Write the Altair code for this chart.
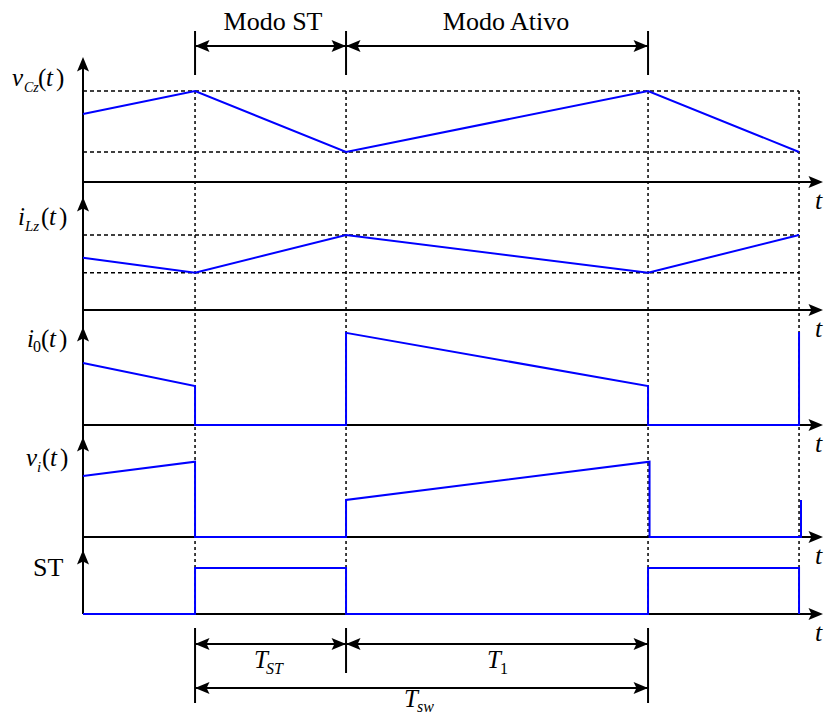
import altair as alt
import pandas as pd

FONT = "Liberation Serif"
BLUE = "#0000ff"
BLACK = "#000000"

# ---------------- data ----------------
# switching instants, in units of T_ST, measured from the vertical axis
t_events = [0.742, 1.742, 3.742, 4.742]

# waveforms: time points and value as fraction of each panel's axis height
vCz_t = [0, 0.742, 1.742, 3.742, 4.742]
vCz_v = [0.544, 0.728, 0.240, 0.728, 0.240]
iLz_t = [0, 0.742, 1.742, 3.742, 4.742]
iLz_v = [0.463, 0.330, 0.664, 0.330, 0.664]
i0_t = [0, 0.742, 0.742, 1.742, 1.742, 3.742, 3.742, 4.742, 4.742]
i0_v = [0.633, 0.398, 0.0, 0.0, 0.940, 0.398, 0.0, 0.0, 0.950]
vi_t = [0, 0.742, 0.742, 1.742, 1.742, 3.752, 3.752, 4.755, 4.755]
vi_v = [0.610, 0.753, 0.0, 0.0, 0.370, 0.753, 0.0, 0.0, 0.370]
ST_t = [0, 0.742, 0.742, 1.742, 1.742, 3.742, 3.742, 4.742, 4.742]
ST_v = [0.0, 0.0, 0.72, 0.72, 0.0, 0.0, 0.72, 0.72, 0.0]

# dashed reference levels (fractions of panel height)
vCz_levels = [0.728, 0.240]
iLz_levels = [0.664, 0.330]

# ---------------- layout (page pixels) ----------------
W, H = 816, 706
X0, PX_T = 83, 151
PANELS = ["vCz", "iLz", "i0", "vi", "ST"]
BASE = {"vCz": 182, "iLz": 310, "i0": 425, "vi": 537, "ST": 614}
TOP = {"vCz": 57, "iLz": 197, "i0": 327, "vi": 437, "ST": 550}
X_TIP = 823


def tx(t):
    return X0 + t * PX_T


def ly(p, v):
    return BASE[p] - v * (BASE[p] - TOP[p])


signals = {"vCz": (vCz_t, vCz_v), "iLz": (iLz_t, iLz_v), "i0": (i0_t, i0_v),
           "vi": (vi_t, vi_v), "ST": (ST_t, ST_v)}

xs = alt.Scale(domain=[8, 8 + W], nice=False, zero=False)
ys = alt.Scale(domain=[8, 8 + H], reverse=True, nice=False, zero=False)
X = alt.X("x:Q", scale=xs, axis=None)
Y = alt.Y("y:Q", scale=ys, axis=None)

# ---- blue waveforms
rows = []
for p in PANELS:
    ts, vs = signals[p]
    for i, (t, v) in enumerate(zip(ts, vs)):
        rows.append({"panel": p, "i": i, "x": tx(t), "y": ly(p, v)})
wave = alt.Chart(pd.DataFrame(rows)).mark_line(color=BLUE, strokeWidth=2).encode(
    x=X, y=Y, detail="panel:N", order="i:Q")

# ---- dotted verticals
top_dash = ly("vCz", vCz_levels[0])
dot_df = pd.DataFrame([{"x": tx(t), "y": top_dash, "y2": BASE["ST"]} for t in t_events])
dotted = alt.Chart(dot_df).mark_rule(color=BLACK, strokeWidth=1.5, strokeDash=[3, 3]).encode(
    x=X, y=Y, y2="y2:Q")

# ---- dashed horizontals
dh = []
for v in vCz_levels:
    dh.append({"x": X0, "x2": tx(t_events[-1]), "y": ly("vCz", v)})
for v in iLz_levels:
    dh.append({"x": X0, "x2": tx(t_events[-1]), "y": ly("iLz", v)})
dashed = alt.Chart(pd.DataFrame(dh)).mark_rule(color=BLACK, strokeWidth=1.5, strokeDash=[4, 3]).encode(
    x=X, x2="x2:Q", y=Y)

# ---- axes and dimension lines (solid)
sol = [{"x": X0, "x2": X0, "y": TOP["vCz"] + 6, "y2": BASE["ST"]}]
for p in PANELS:
    sol.append({"x": X0, "x2": X_TIP - 6, "y": BASE[p], "y2": BASE[p]})
# top dimension marks
for t in t_events[:3]:
    sol.append({"x": tx(t), "x2": tx(t), "y": 31, "y2": 75})
sol.append({"x": tx(t_events[0]), "x2": tx(t_events[1]), "y": 46, "y2": 46})
sol.append({"x": tx(t_events[1]), "x2": tx(t_events[2]), "y": 46, "y2": 46})
# bottom dimension marks
sol.append({"x": tx(t_events[0]), "x2": tx(t_events[0]), "y": 628, "y2": 703})
sol.append({"x": tx(t_events[1]), "x2": tx(t_events[1]), "y": 628, "y2": 673})
sol.append({"x": tx(t_events[2]), "x2": tx(t_events[2]), "y": 628, "y2": 703})
sol.append({"x": tx(t_events[0]), "x2": tx(t_events[1]), "y": 644, "y2": 644})
sol.append({"x": tx(t_events[1]), "x2": tx(t_events[2]), "y": 644, "y2": 644})
sol.append({"x": tx(t_events[0]), "x2": tx(t_events[2]), "y": 688, "y2": 688})
solid = alt.Chart(pd.DataFrame(sol)).mark_rule(color=BLACK, strokeWidth=2).encode(
    x=X, x2="x2:Q", y=Y, y2="y2:Q")

# ---- arrowheads
ARROW = "M0,0 L0.56,1.35 L0,1.08 L-0.56,1.35 Z"
ah = []
for p in PANELS:
    ah.append({"x": X0, "y": TOP[p], "ang": 0})
    ah.append({"x": X_TIP, "y": BASE[p], "ang": 90})
for yy in (46, 644):
    ah += [{"x": tx(t_events[0]), "y": yy, "ang": 270},
           {"x": tx(t_events[1]), "y": yy, "ang": 90},
           {"x": tx(t_events[1]), "y": yy, "ang": 270},
           {"x": tx(t_events[2]), "y": yy, "ang": 90}]
ah += [{"x": tx(t_events[0]), "y": 688, "ang": 270},
       {"x": tx(t_events[2]), "y": 688, "ang": 90}]
arrows = alt.Chart(pd.DataFrame(ah)).mark_point(
    shape=ARROW, filled=True, size=460, color=BLACK, opacity=1, strokeWidth=0
).encode(x=X, y=Y, angle=alt.Angle("ang:Q", scale=None))

# ---- texts: (text, x, baseline y, size)
ital = [
    ("v", 12, 86, 25), ("Cz", 24, 92, 14), ("t", 46, 86, 25),
    ("i", 18, 225, 25), ("Lz", 25, 231, 15), ("t", 49, 225, 25),
    ("i", 27, 347, 25), ("t", 49, 347, 25),
    ("v", 26, 466, 25), ("i", 37, 472, 15), ("t", 50, 466, 25),
    ("T", 254, 668, 25), ("ST", 266, 674, 16),
    ("T", 487, 668, 25),
    ("T", 404, 707, 25), ("sw", 417, 712, 16),
]
for p in PANELS:
    ital.append(("t", 815, BASE[p] + 27, 26))
norm = [
    ("(", 38, 86, 25), (")", 56, 86, 25),
    ("(", 41, 225, 25), (")", 59, 225, 25),
    ("0", 33, 352, 16), ("(", 41, 347, 25), (")", 59, 347, 25),
    ("(", 42, 466, 25), (")", 60, 466, 25),
    ("ST", 33, 576, 26),
    ("1", 500, 674, 16),
]
center = [("Modo ST", 273, 30, 26), ("Modo Ativo", 506, 30, 26)]


def text_layer(items, style, align):
    df = pd.DataFrame(items, columns=["label", "x", "y", "size"])
    return alt.Chart(df).mark_text(font=FONT, fontStyle=style, align=align,
                                   baseline="alphabetic", color=BLACK).encode(
        x=X, y=Y, text="label:N", size=alt.Size("size:Q", scale=None))


texts = [text_layer(ital, "italic", "left"), text_layer(norm, "normal", "left"),
         text_layer(center, "normal", "center")]

chart = alt.layer(dotted, dashed, solid, arrows, wave, *texts).properties(
    width=W, height=H, padding=0, autosize=alt.AutoSizeParams(type="none")
).configure_view(stroke=None)

chart.save("out.html", embed_options={"renderer": "svg", "actions": False})
